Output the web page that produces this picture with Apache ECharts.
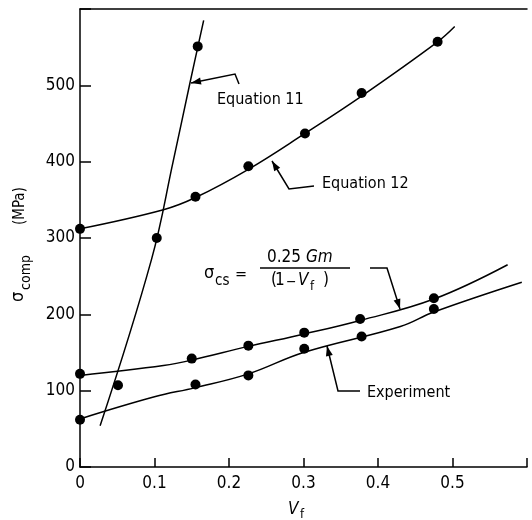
<!DOCTYPE html>
<html>
<head>
<meta charset="utf-8">
<script src="https://cdn.jsdelivr.net/npm/echarts@6/dist/echarts.min.js"></script>
<style>
  html, body { margin: 0; padding: 0; background: #fff; }
  #main { width: 532px; height: 520px; }
</style>
</head>
<body>
<div id="main"></div>
<script>
// values (Vf, sigma in MPa)
var xTicks = [0, 0.1, 0.2, 0.3, 0.4, 0.5];
var yTicks = [0, 100, 200, 300, 400, 500];

var eq11Points = [[0.051, 107], [0.103, 300], [0.158, 551]];
var eq11Curve = [[0.027, 54], [0.096, 272], [0.125, 400], [0.148, 505], [0.166, 585]];

var eq12Points = [[0, 312], [0.155, 354], [0.226, 394], [0.302, 437], [0.378, 490], [0.48, 557]];
var eq12Curve = [[0, 312], [0.112, 337], [0.155, 353], [0.226, 390], [0.302, 437], [0.378, 486], [0.48, 557], [0.503, 577]];

var csPoints = [[0, 122], [0.15, 142], [0.226, 159], [0.301, 176], [0.376, 194], [0.475, 221]];
var csCurve = [[0, 120], [0.112, 133], [0.15, 140], [0.226, 158], [0.3, 174], [0.376, 192], [0.475, 220], [0.574, 265]];

var expPoints = [[0, 62], [0.155, 108], [0.226, 120], [0.301, 155], [0.378, 171], [0.475, 207]];
var expCurve = [[0, 63], [0.1, 92], [0.155, 104], [0.226, 122], [0.3, 150], [0.43, 184], [0.475, 203], [0.593, 242]];

var FONT = '"DejaVu Sans Condensed", "DejaVu Sans", sans-serif';
var INK = '#000';

// leader line with an arrow head on the first point
function leader(pts) {
    var x0 = pts[0][0], y0 = pts[0][1];
    var dx = pts[1][0] - x0, dy = pts[1][1] - y0;
    var L = Math.sqrt(dx * dx + dy * dy);
    var ux = dx / L, uy = dy / L;
    var len = 10, w = 3.5;
    var bx = x0 + ux * len, by = y0 + uy * len;
    return [
        { type: 'polyline', shape: { points: pts }, style: { stroke: INK, lineWidth: 1.5, fill: null }, z: 100 },
        { type: 'polygon', shape: { points: [[x0, y0], [bx - uy * w, by + ux * w], [bx + uy * w, by - ux * w]] }, style: { fill: INK }, z: 100 }
    ];
}

function txt(x, y, s, size, opts) {
    opts = opts || {};
    return {
        type: 'text', x: x, y: y, z: 100,
        style: {
            text: s,
            font: (opts.italic ? 'italic ' : '') + size + 'px ' + FONT,
            fill: INK,
            align: opts.align || 'left',
            verticalAlign: 'middle'
        }
    };
}

function curve(data) {
    return {
        type: 'line', data: data, smooth: 0.4, showSymbol: false, silent: true,
        lineStyle: { color: INK, width: 1.5 }
    };
}

function dots(data) {
    return {
        type: 'scatter', data: data, symbol: 'circle', symbolSize: 10, silent: true,
        itemStyle: { color: INK, opacity: 1 }
    };
}

var graphics = []
    .concat(leader([[191, 83], [235, 74], [239, 84]]))
    .concat(leader([[272, 161], [289, 189], [314, 186]]))
    .concat(leader([[400, 309], [387, 268], [370, 268]]))
    .concat(leader([[327, 346], [338, 391], [360, 391]]))
    .concat([
        txt(217, 100, 'Equation 11', 16),
        txt(322, 184, 'Equation 12', 16),
        txt(367, 393, 'Experiment', 16),
        // sigma_cs = 0.25 Gm / (1 - Vf)
        txt(204, 273, 'σ', 18),
        txt(215, 281, 'cs', 15),
        txt(235, 275, '=', 16),
        { type: 'line', shape: { x1: 260, y1: 268, x2: 350, y2: 268 }, style: { stroke: INK, lineWidth: 1.5 }, z: 100 },
        txt(267, 258, '0.25', 17),
        txt(306, 258, 'Gm', 17, { italic: true }),
        txt(271, 281, '(', 17),
        txt(275, 281, '1', 17),
        txt(286, 282, '−', 14),
        txt(298, 281, 'V', 17, { italic: true }),
        txt(310, 287, 'f', 13),
        txt(323, 281, ')', 17),
        // x axis name
        txt(288, 510, 'V', 17, { italic: true }),
        txt(300, 515, 'f', 13),
        // y axis name, rotated
        {
            type: 'group', x: 22, y: 302, rotation: Math.PI / 2, z: 100,
            children: [
                txt(0, -4, 'σ', 18),
                txt(12, 4, 'comp', 14),
                txt(77, -2, '(MPa)', 15)
            ]
        }
    ]);

var myChart = echarts.init(document.getElementById('main'));
var option = {
    animation: false,
    backgroundColor: '#fff',
    grid: { left: 80, right: 5, top: 9, bottom: 53, containLabel: false },
    xAxis: [
        {
            type: 'value', min: 0, max: 0.6, interval: 0.1,
            axisLine: { lineStyle: { color: INK, width: 1.5 } },
            axisTick: { inside: true, length: 9, lineStyle: { color: INK, width: 1.5 } },
            axisLabel: {
                color: INK, fontSize: 17, fontFamily: FONT, margin: 8,
                formatter: function (v) {
                    for (var i = 0; i < xTicks.length; i++) {
                        if (Math.abs(xTicks[i] - v) < 1e-9) return String(xTicks[i]);
                    }
                    return '';
                }
            },
            splitLine: { show: false }
        },
        {
            type: 'value', position: 'top', min: 0, max: 0.6,
            axisLine: { show: true, lineStyle: { color: INK, width: 1.5 } },
            axisTick: { show: false }, axisLabel: { show: false }, splitLine: { show: false }
        }
    ],
    yAxis: {
        type: 'value', min: 0, max: 600, interval: 100,
        axisLine: { show: true, lineStyle: { color: INK, width: 1.5 } },
        axisTick: { inside: true, length: 11, lineStyle: { color: INK, width: 1.5 } },
        axisLabel: {
            color: INK, fontSize: 17, fontFamily: FONT, margin: 5,
            formatter: function (v) { return yTicks.indexOf(v) >= 0 ? String(v) : ''; }
        },
        splitLine: { show: false }
    },
    series: [
        curve(eq11Curve), dots(eq11Points),
        curve(eq12Curve), dots(eq12Points),
        curve(csCurve), dots(csPoints),
        curve(expCurve), dots(expPoints)
    ],
    graphic: graphics
};
myChart.setOption(option);
</script>
</body>
</html>
